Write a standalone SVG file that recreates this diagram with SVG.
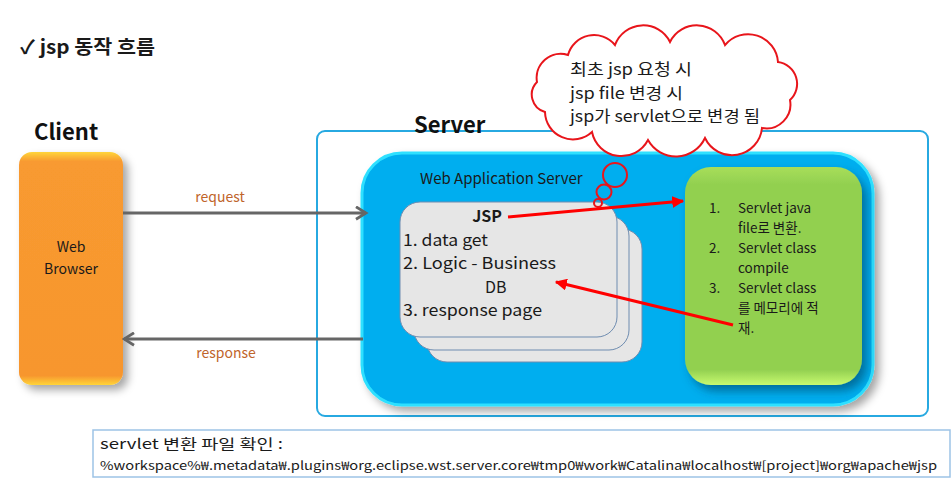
<svg xmlns="http://www.w3.org/2000/svg" width="952" height="492" viewBox="0 0 952 492">
<style>
text{font-family:"Noto Sans CJK KR","Noto Sans",sans-serif;fill:#1a1a1a}
.h{font-weight:bold;font-size:22px;fill:#111}
.lbl{font-size:14px;fill:#C0652B}
.card{fill:#E6E6E6;stroke:#6E8CB0;stroke-width:1}
.jsp{font-size:16px}
.gr{font-size:13.5px}
.cl{font-size:16px}
.gray{stroke:#666;stroke-width:3;fill:none}
.red{stroke:#F00;stroke-width:3;fill:none}
</style>
<defs>
<filter id="sh" x="-20%" y="-20%" width="150%" height="150%"><feDropShadow dx="5" dy="5" stdDeviation="4" flood-color="#000" flood-opacity="0.35"/></filter>
<filter id="shg" x="-20%" y="-20%" width="150%" height="150%"><feDropShadow dx="5" dy="6" stdDeviation="5" flood-color="#003a5a" flood-opacity="0.55"/></filter>
<linearGradient id="og" x1="0" y1="0" x2="0" y2="1"><stop offset="0" stop-color="#FFD53A"/><stop offset="0.04" stop-color="#F89A30"/><stop offset="0.96" stop-color="#F7962E"/><stop offset="1" stop-color="#FFD53A"/></linearGradient>
<linearGradient id="gg" x1="0" y1="0" x2="0" y2="1"><stop offset="0" stop-color="#A8DE5A"/><stop offset="0.08" stop-color="#92D050"/><stop offset="0.93" stop-color="#92D050"/><stop offset="1" stop-color="#C8FA70"/></linearGradient>
<marker id="chev" viewBox="0 0 12 12" refX="10" refY="6" markerWidth="5" markerHeight="5" orient="auto" markerUnits="strokeWidth"><path d="M2,1 L10,6 L2,11" fill="none" stroke="#666" stroke-width="2.2"/></marker>
<marker id="rtri" viewBox="0 0 10 10" refX="9" refY="5" markerWidth="4" markerHeight="4" orient="auto" markerUnits="strokeWidth"><path d="M0,0 L10,5 L0,10 z" fill="#F00"/></marker>
</defs>
<rect width="952" height="492" fill="#fff"/>

<g id="title"><text x="20" y="54" style="font-size:19px;font-weight:bold" textLength="135" lengthAdjust="spacingAndGlyphs">✓ jsp 동작 흐름</text></g>

<g id="client">
<text class="h" x="34" y="140">Client</text>
<rect x="19" y="152" width="104" height="233" rx="13" fill="url(#og)" filter="url(#sh)"/>
<text x="71" y="252" text-anchor="middle" style="font-size:14px">Web</text>
<text x="71" y="274" text-anchor="middle" style="font-size:14px">Browser</text>
</g>

<g id="server">
<rect x="317" y="131" width="611" height="285" rx="8" fill="none" stroke="#27A9E1" stroke-width="2"/>
<text class="h" x="414" y="133">Server</text>
</g>

<g id="was">
<rect x="362" y="153" width="511" height="252" rx="40" fill="#00AEEF" stroke="#2FE0FF" stroke-width="3" filter="url(#sh)"/>
<text x="420" y="184" style="font-size:15px">Web Application Server</text>
</g>

<g id="jsp">
<rect class="card" x="427" y="229" width="215" height="133" rx="20"/>
<rect class="card" x="414" y="216" width="215" height="134" rx="20"/>
<rect class="card" x="400" y="202" width="217" height="135" rx="20"/>
<text class="jsp" x="487" y="222" text-anchor="middle" style="font-weight:bold">JSP</text>
<text class="jsp" x="403" y="245.5" textLength="85" lengthAdjust="spacingAndGlyphs">1. data get</text>
<text class="jsp" x="403" y="269" textLength="153" lengthAdjust="spacingAndGlyphs">2. Logic - Business</text>
<text class="jsp" x="485" y="292.5">DB</text>
<text class="jsp" x="403" y="316" textLength="139" lengthAdjust="spacingAndGlyphs">3. response page</text>
</g>

<g id="servlet">
<rect x="685" y="167" width="177" height="218" rx="26" fill="url(#gg)" filter="url(#shg)"/>
<text class="gr" x="709" y="213">1.</text>
<text class="gr" x="709" y="253">2.</text>
<text class="gr" x="709" y="293">3.</text>
<text class="gr" x="738" y="213">Servlet java</text>
<text class="gr" x="738" y="233">file로 변환.</text>
<text class="gr" x="738" y="253">Servlet class</text>
<text class="gr" x="738" y="273">compile</text>
<text class="gr" x="738" y="293">Servlet class</text>
<text class="gr" x="738" y="313">를 메모리에 적</text>
<text class="gr" x="738" y="333">재.</text>
</g>

<g id="cloud">
<path d="M545,112 A18,18 0 0 1 537,82 A24,24 0 0 1 568,55 A27,27 0 0 1 615,45 A30,30 0 0 1 670,42 A30,30 0 0 1 725,45 A30,30 0 0 1 778,62 A22,22 0 0 1 790,100 A24,24 0 0 1 762,128 A30,30 0 0 1 705,138 A32,32 0 0 1 648,140 A30,30 0 0 1 592,132 A28,28 0 0 1 545,112 Z" fill="#fff" stroke="#E8151B" stroke-width="2"/>
<circle cx="615" cy="175" r="12" fill="none" stroke="#E8151B" stroke-width="2"/>
<circle cx="604" cy="192" r="7.5" fill="none" stroke="#E8151B" stroke-width="2"/>
<circle cx="598" cy="203" r="4" fill="none" stroke="#E8151B" stroke-width="2"/>
<text class="cl" x="570" y="75" textLength="122" lengthAdjust="spacingAndGlyphs">최초 jsp 요청 시</text>
<text class="cl" x="570" y="98.5" textLength="113" lengthAdjust="spacingAndGlyphs">jsp file 변경 시</text>
<text class="cl" x="570" y="122" textLength="190" lengthAdjust="spacingAndGlyphs">jsp가 servlet으로 변경 됨</text>
</g>

<g id="connectors">
<line class="gray" x1="123" y1="213" x2="366" y2="213" marker-end="url(#chev)"/>
<line class="gray" x1="363" y1="339" x2="124" y2="339" marker-end="url(#chev)"/>
<text class="lbl" x="220" y="202" text-anchor="middle">request</text>
<text class="lbl" x="226" y="358" text-anchor="middle">response</text>
<line class="red" x1="508" y1="217" x2="683" y2="201" marker-end="url(#rtri)"/>
<line class="red" x1="733" y1="325" x2="556" y2="282" marker-end="url(#rtri)"/>
</g>

<g id="note">
<rect x="93" y="430" width="857" height="47" fill="#fff" stroke="#9DC3E6" stroke-width="1.5"/>
<text x="100" y="449" style="font-size:14px" textLength="183" lengthAdjust="spacingAndGlyphs">servlet 변환 파일 확인 :</text>
<text x="100" y="470" style="font-size:12px" textLength="837" lengthAdjust="spacingAndGlyphs">%workspace%₩.metadata₩.plugins₩org.eclipse.wst.server.core₩tmp0₩work₩Catalina₩localhost₩[project]₩org₩apache₩jsp</text>
</g>
</svg>
